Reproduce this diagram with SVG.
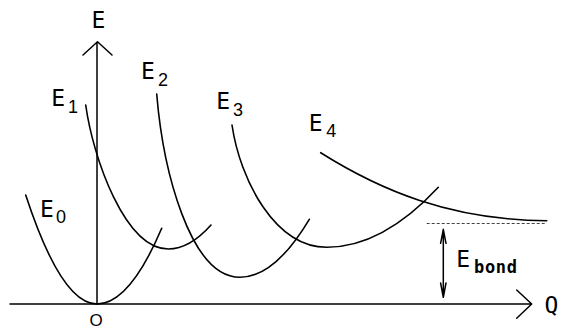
<svg xmlns="http://www.w3.org/2000/svg" width="562" height="330" viewBox="0 0 562 330">
<style>
.ln{fill:none;stroke:#000;stroke-width:1.6;stroke-linecap:round;stroke-linejoin:round}
.ax{fill:none;stroke:#000;stroke-width:1.5;stroke-linecap:round;stroke-linejoin:round}
.dash{fill:none;stroke:#444;stroke-width:1;stroke-dasharray:3 2}
.t{font-family:"DejaVu Sans Mono","Liberation Mono",monospace;font-size:23px;fill:#000;text-anchor:middle}
.s{font-family:"Liberation Sans","DejaVu Sans",sans-serif;font-size:18px;fill:#000;text-anchor:middle}
.b{font-family:"DejaVu Sans Mono","Liberation Mono",monospace;font-size:17px;font-weight:bold;fill:#000}
</style>
<rect width="562" height="330" fill="#fff"/>
<g id="axes">
  <path class="ax" d="M97,304 V42 M83,55 L97.5,41.7 L112,55"/>
  <path class="ax" d="M10,304 H531 M516.7,290 L531.7,304 L516.7,318.3"/>
  <text class="t" x="98.5" y="28">E</text>
  <text class="t" x="551.5" y="313">Q</text>
  <text class="s" x="96" y="325.5" style="font-size:17px">O</text>
</g>
<g id="curves">
  <path id="curve-E0" class="ln" d="M25.7,195 Q61.4,304 97,304 Q129.4,304 161.7,228.3"/>
  <path id="curve-E1" class="ln" d="M85.7,105 C93,158 125,249 168.3,249 Q189.6,249 211,225"/>
  <path id="curve-E2" class="ln" d="M156.7,94 C163,170 190,277.3 240,277.3 Q274.6,277.3 309.3,219.3"/>
  <path id="curve-E3" class="ln" d="M232,125 C240,180 275,247.3 326.7,247.3 Q382.5,247.3 438.3,187.3"/>
  <path id="curve-E4" class="ln" d="M320.7,152.7 C380,190 450,220 546.7,220.7"/>
</g>
<g id="label-E0"><text class="t" x="47" y="216.7">E</text><text class="s" x="61" y="223.3">0</text></g>
<g id="label-E1"><text class="t" x="58.3" y="106">E</text><text class="s" x="73" y="112.7">1</text></g>
<g id="label-E2"><text class="t" x="148" y="79.3">E</text><text class="s" x="163" y="85.7">2</text></g>
<g id="label-E3"><text class="t" x="223.2" y="109">E</text><text class="s" x="238" y="116">3</text></g>
<g id="label-E4"><text class="t" x="315.8" y="131">E</text><text class="s" x="331.2" y="137.3">4</text></g>
<g id="bond">
  <path class="dash" d="M426.7,223.5 H546.7"/>
  <path class="ax" d="M443.3,230 V296.7 M440.6,243.3 L443.3,229.3 L446,243.3 M440.6,283 L443.3,297.3 L446,283" stroke-width="1.3"/>
  <text class="t" x="463.3" y="266.7">E</text>
  <text class="b" x="474" y="272.7" textLength="43" lengthAdjust="spacing">bond</text>
</g>
</svg>
